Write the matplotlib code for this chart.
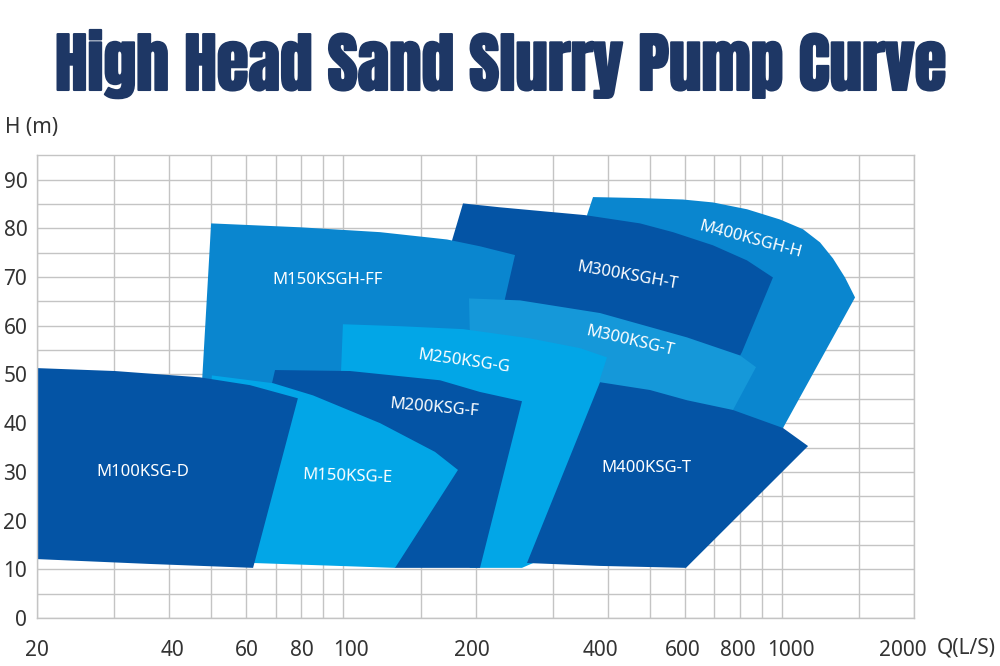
"""High head sand slurry pump selection chart (H vs Q, log flow axis)."""

from __future__ import annotations

import matplotlib

matplotlib.use("Agg", force=True)
import matplotlib.patheffects as pe
import matplotlib.pyplot as plt
from matplotlib.ticker import FixedLocator, NullFormatter
from matplotlib.transforms import ScaledTranslation

# pump coverage areas, boundary (Q in L/S, H in m)
m400ksgh_h_q = [370.7, 474.6, 594.5, 696.1, 832.3, 989.5, 1116.6, 1221.0, 1307.3, 1392.0, 1467.6,
                1005.3, 802.0, 650.1, 384.6, 359.2]
m400ksgh_h_h = [86.4, 86.2, 85.9, 85.3, 83.9, 81.8, 79.8, 77.1, 73.8, 69.9, 65.8,
                39.0, 38.6, 40.6, 65.2, 82.7]

m300ksgh_t_q = [187.3, 227.5, 355.4, 474.6, 564.1, 696.1, 832.3, 953.5, 810.5, 781.3, 204.8, 179.6, 176.8]
m300ksgh_t_h = [85.1, 84.3, 82.7, 81.0, 79.2, 76.5, 73.4, 69.9, 54.6, 51.9, 64.2, 67.3, 77.5]

m150ksgh_ff_q = [49.9, 79.6, 121.2, 172.2, 204.8, 246.1, 227.5, 194.3, 100.8, 69.8, 47.6]
m150ksgh_ff_h = [81.0, 80.2, 79.2, 77.7, 76.3, 74.5, 61.1, 57.0, 50.5, 46.4, 48.8]

m300ksg_t_q = [193.3, 252.6, 384.6, 607.2, 802.0, 872.4, 773.1, 685.1, 384.6, 194.3]
m300ksg_t_h = [65.6, 65.2, 62.6, 57.6, 53.9, 51.5, 42.7, 34.5, 34.5, 57.0]

m250ksg_g_q = [99.7, 134.5, 187.3, 266.3, 346.2, 399.0, 383.0, 415.0, 280.6, 255.3, 194.3, 98.7]
m250ksg_g_h = [60.3, 59.9, 59.3, 57.4, 55.4, 53.5, 48.6, 44.7, 11.9, 10.3, 10.3, 50.5]

m400ksg_t_q = [384.6, 500.0, 607.2, 773.1, 1005.3, 1146.6, 604.0, 384.6, 262.1]
m400ksg_t_h = [48.4, 46.8, 44.7, 42.7, 39.0, 35.3, 10.3, 10.7, 11.3]

m200ksg_f_q = [69.8, 103.5, 166.0, 204.8, 255.3, 204.8, 131.1, 93.1, 68.7]
m200ksg_f_h = [50.9, 50.7, 48.8, 46.4, 44.5, 10.3, 10.3, 30.4, 48.2]

m150ksg_e_q = [50.1, 69.1, 85.2, 121.2, 161.7, 182.4, 131.1, 62.2, 47.1]
m150ksg_e_h = [49.8, 48.2, 45.7, 40.0, 34.1, 30.4, 10.3, 11.3, 11.5]

m100ksg_d_q = [20.0, 30.1, 47.1, 61.2, 78.7, 62.2, 36.2, 20.0]
m100ksg_d_h = [51.3, 50.7, 49.4, 47.8, 45.1, 10.3, 11.1, 12.1]

# label anchor (Q, H) and text angle for each area
label_names = ["M400KSGH-H", "M300KSGH-T", "M150KSGH-FF", "M300KSG-T", "M250KSG-G",
               "M400KSG-T", "M200KSG-F", "M150KSG-E", "M100KSG-D"]
label_q = [845.0, 443.0, 92.1, 450.0, 188.3, 490.0, 161.0, 101.9, 34.9]
label_h = [77.7, 70.2, 69.3, 56.8, 52.7, 30.8, 43.1, 29.1, 29.9]
label_rot = [-15, -10, 0, -13, -8, 0, -5, -2, 0]

x_ticks = [20, 40, 60, 80, 100, 200, 400, 600, 800, 1000, 2000]
x_grid = [30, 50, 70, 90, 150, 300, 500, 700, 900, 1500]
y_ticks = [0, 10, 20, 30, 40, 50, 60, 70, 80, 90]
y_grid = [5, 15, 25, 35, 45, 55, 65, 75, 85]

# the original nudges some Q labels off their grid line (pixels)
X_LABEL_SHIFT = [0, 3, 1, 1, 7, -4, -7, -2, -2, 9, -11]

DARK = "#0454a5"
MEDIUM = "#0a86cf"
MID_LIGHT = "#1598d9"
LIGHT = "#02a6e7"
NAVY = "#1e3765"
TEXT_FONT = ["Noto Sans", "DejaVu Sans"]
TITLE_FONT = ["Anton", "Oswald", "Bebas Neue", "Liberation Sans Narrow", "DejaVu Sans"]


def fit_title(fig, title, width_px: float) -> None:
    """Shrink/grow the title font so it spans the same width as the original."""

    renderer = fig.canvas.get_renderer()
    for _ in range(3):
        width = title.get_window_extent(renderer).width
        title.set_fontsize(title.get_fontsize() * width_px / width)


def main() -> None:
    fig = plt.figure(figsize=(10, 6.66), dpi=100)
    ax = fig.add_axes([0.037, 0.072, 0.877, 0.695])

    # back to front, same stacking as the original chart
    areas = [
        (m400ksgh_h_q, m400ksgh_h_h, MEDIUM),
        (m300ksgh_t_q, m300ksgh_t_h, DARK),
        (m150ksgh_ff_q, m150ksgh_ff_h, MEDIUM),
        (m300ksg_t_q, m300ksg_t_h, MID_LIGHT),
        (m250ksg_g_q, m250ksg_g_h, LIGHT),
        (m400ksg_t_q, m400ksg_t_h, DARK),
        (m200ksg_f_q, m200ksg_f_h, DARK),
        (m150ksg_e_q, m150ksg_e_h, LIGHT),
        (m100ksg_d_q, m100ksg_d_h, DARK),
    ]
    for q, h, color in areas:
        ax.fill(q, h, color=color, linewidth=0, zorder=2)

    for name, q, h, rot in zip(label_names, label_q, label_h, label_rot):
        ax.text(q, h, name, color="white", fontsize=12, family=TEXT_FONT,
                rotation=rot, rotation_mode="anchor", ha="center", va="center", zorder=3)

    ax.set_xscale("log")
    ax.set_xlim(20, 2000)
    ax.set_ylim(0, 95)
    ax.xaxis.set_major_locator(FixedLocator(x_ticks))
    ax.xaxis.set_minor_locator(FixedLocator(x_grid))
    ax.xaxis.set_minor_formatter(NullFormatter())
    ax.set_xticklabels([str(v) for v in x_ticks])
    ax.yaxis.set_major_locator(FixedLocator(y_ticks))
    ax.yaxis.set_minor_locator(FixedLocator(y_grid))
    ax.set_yticklabels([str(v) for v in y_ticks])

    ax.grid(True, which="both", color="#c4c4c4", linewidth=1.0)
    ax.set_axisbelow(True)
    for spine in ax.spines.values():
        spine.set_color("#c4c4c4")
        spine.set_linewidth(1.0)
    ax.tick_params(which="both", length=0)
    ax.tick_params(axis="x", pad=16, labelsize=15, labelcolor="#333333")
    ax.tick_params(axis="y", pad=7, labelsize=15, labelcolor="#333333")
    for lbl in ax.get_xticklabels() + ax.get_yticklabels():
        lbl.set_family(TEXT_FONT)
    for lbl, shift in zip(ax.get_xticklabels(), X_LABEL_SHIFT):
        lbl.set_transform(lbl.get_transform() + ScaledTranslation(shift / 100, 0, fig.dpi_scale_trans))

    fig.text(0.005, 1 - 128 / 666, "H (m)", fontsize=15, color="#333333",
             family=TEXT_FONT, ha="left", va="center")
    fig.text(0.937, 1 - 648 / 666, "Q(L/S)", fontsize=15, color="#333333",
             family=TEXT_FONT, ha="left", va="center")

    title = fig.text(0.5, 1 - 90 / 666, "High Head Sand Slurry Pump Curve",
                     fontsize=47, fontweight="bold", color=NAVY,
                     family=TITLE_FONT, ha="center", va="baseline")
    title.set_path_effects([pe.withStroke(linewidth=1.5, foreground=NAVY)])
    fit_title(fig, title, 890)

    fig.savefig("out.png", dpi=100)
    plt.close(fig)


if __name__ == "__main__":
    main()
